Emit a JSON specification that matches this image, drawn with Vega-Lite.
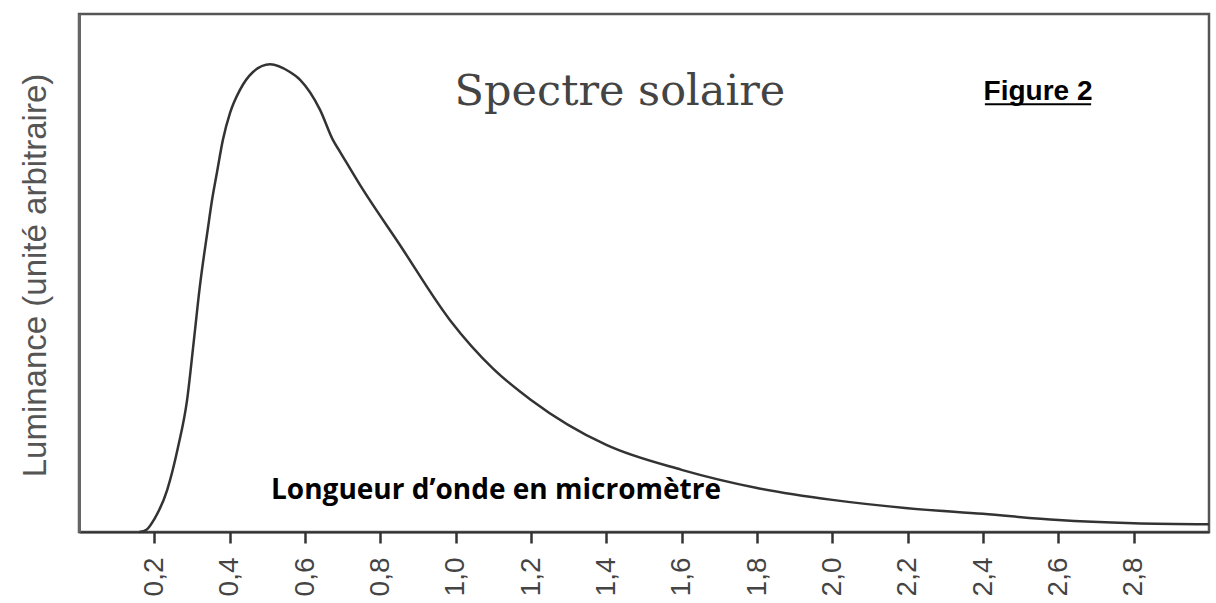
{
  "$schema": "https://vega.github.io/schema/vega-lite/v6.json",
  "width": 1130,
  "height": 518,
  "autosize": {"type": "none"},
  "padding": {"left": 79, "top": 14, "right": 7, "bottom": 71},
  "background": "white",
  "config": {"view": {"stroke": "#555", "strokeWidth": 2.5}},
  "encoding": {
    "x": {
      "field": "x", "type": "quantitative",
      "scale": {"domain": [0, 3], "nice": false, "zero": false},
      "axis": {
        "values": [0.2, 0.4, 0.6, 0.8, 1.0, 1.2, 1.4, 1.6, 1.8, 2.0, 2.2, 2.4, 2.6, 2.8],
        "labelExpr": "replace(format(datum.value, '.1f'), '.', ',')",
        "title": null, "grid": false,
        "domainColor": "#333", "domainWidth": 2,
        "tickColor": "#333", "tickWidth": 2.5, "tickSize": 11,
        "labelAngle": -90, "labelAlign": "right", "labelBaseline": "middle",
        "labelFont": "Liberation Sans",
        "labelFontSize": 28, "labelColor": "#444", "labelPadding": 14
      }
    },
    "y": {
      "field": "y", "type": "quantitative",
      "scale": {"domain": [0, 100], "nice": false},
      "axis": {
        "ticks": false, "labels": false, "grid": false,
        "domainColor": "#666", "domainWidth": 3,
        "title": "Luminance (unité arbitraire)",
        "titleFont": "Liberation Sans",
        "titleFontSize": 33, "titleFontWeight": "normal", "titleColor": "#555",
        "titleX": -44, "titleY": 261, "titleAngle": -90,
        "titleAlign": "center", "titleBaseline": "middle"
      }
    }
  },
  "layer": [
    {
      "data": {"values": [
        {"x": 0.16, "y": 0}, {"x": 0.18, "y": 0.5}, {"x": 0.20, "y": 2.5},
        {"x": 0.234, "y": 8.1}, {"x": 0.263, "y": 16.4}, {"x": 0.287, "y": 25.5},
        {"x": 0.305, "y": 37}, {"x": 0.321, "y": 47.5}, {"x": 0.342, "y": 58.5},
        {"x": 0.353, "y": 64}, {"x": 0.366, "y": 69.3}, {"x": 0.382, "y": 75.7},
        {"x": 0.401, "y": 80.9}, {"x": 0.427, "y": 85.3}, {"x": 0.462, "y": 88.8},
        {"x": 0.507, "y": 90.3}, {"x": 0.560, "y": 88.8}, {"x": 0.587, "y": 87.3},
        {"x": 0.640, "y": 81.5}, {"x": 0.674, "y": 75.7}, {"x": 0.693, "y": 73.4},
        {"x": 0.746, "y": 67}, {"x": 0.852, "y": 55.4}, {"x": 0.985, "y": 40.9},
        {"x": 1.1, "y": 31.5},
        {"x": 1.2, "y": 25.5}, {"x": 1.4, "y": 16.8}, {"x": 1.6, "y": 12},
        {"x": 1.8, "y": 8.5}, {"x": 2.0, "y": 6.2}, {"x": 2.2, "y": 4.6},
        {"x": 2.4, "y": 3.5}, {"x": 2.6, "y": 2.3}, {"x": 2.8, "y": 1.7},
        {"x": 3.0, "y": 1.5}
      ]},
      "mark": {"type": "line", "color": "#333", "strokeWidth": 2.5, "interpolate": "monotone"}
    },
    {
      "data": {"values": [{"x": 1.436, "y": 82.5, "t": "Spectre solaire"}]},
      "mark": {"type": "text", "font": "DejaVu Serif", "fontSize": 43, "color": "#444", "align": "center", "baseline": "alphabetic"},
      "encoding": {"text": {"field": "t"}}
    },
    {
      "data": {"values": [{"x": 2.546, "y": 83.4, "t": "Figure 2"}]},
      "mark": {"type": "text", "font": "Liberation Sans", "fontWeight": "bold", "fontSize": 28, "color": "#000", "align": "center", "baseline": "alphabetic"},
      "encoding": {"text": {"field": "t"}}
    },
    {
      "data": {"values": [{"x": 2.405, "x2": 2.687, "y": 82.6}]},
      "mark": {"type": "rule", "color": "#000", "strokeWidth": 2},
      "encoding": {"x2": {"field": "x2"}}
    },
    {
      "data": {"values": [{"x": 1.107, "y": 7.9, "t": "Longueur d’onde en micromètre"}]},
      "mark": {"type": "text", "font": "Open Sans", "fontWeight": "bold", "fontSize": 28, "color": "#000", "align": "center", "baseline": "middle"},
      "encoding": {"text": {"field": "t"}}
    }
  ]
}
